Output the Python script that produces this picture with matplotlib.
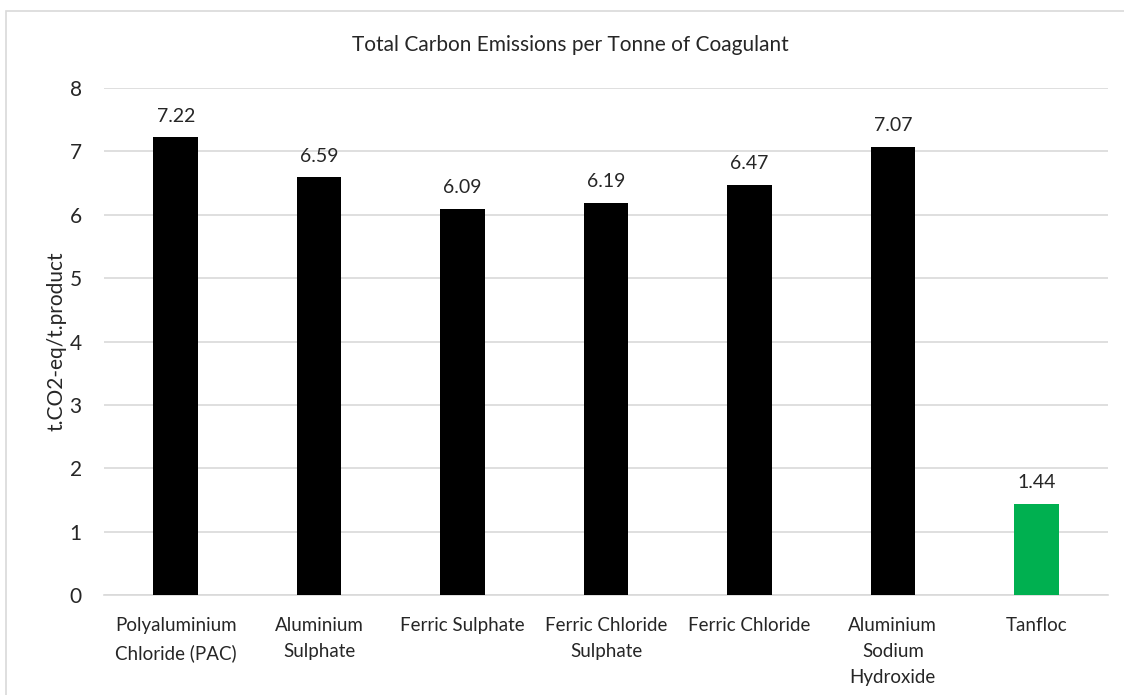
import matplotlib.pyplot as plt
from matplotlib.patches import Rectangle

categories = ["Polyaluminium\nChloride (PAC)", "Aluminium\nSulphate", "Ferric Sulphate",
              "Ferric Chloride\nSulphate", "Ferric Chloride", "Aluminium\nSodium\nHydroxide",
              "Tanfloc"]
values = [7.22, 6.59, 6.09, 6.19, 6.47, 7.07, 1.44]
colors = ["black"] * 6 + ["#00B050"]

plt.rcParams["font.family"] = ["Lato", "DejaVu Sans"]

W, H = 1124, 695
fig = plt.figure(figsize=(W / 100, H / 100), dpi=100)
ax = fig.add_axes([104 / W, 1 - 595 / H, (1108 - 104) / W, (595 - 88) / H])

# chart border (cut off at right and bottom like the original)
fig.patches.append(Rectangle((6 / W, -0.1), 1.2, 1 - 11 / H + 0.1, transform=fig.transFigure,
                             fill=False, edgecolor="#d9d9d9", linewidth=1.2, zorder=0))

x = range(len(categories))
bars = ax.bar(x, values, width=0.31, color=colors, zorder=3)
for xi, v in zip(x, values):
    ax.text(xi, v + 0.2, f"{v:.2f}", ha="center", va="bottom", fontsize=14, color="#262626")

ax.set_xlim(-0.5, len(categories) - 0.5)
ax.set_ylim(0, 8)
ax.set_yticks(range(0, 9))
ax.set_xticks(list(x))
ax.set_xticklabels(categories, fontsize=13.5, color="#262626", linespacing=1.65)
ax.tick_params(axis="y", labelsize=15, colors="#262626", length=0, pad=16)
ax.tick_params(axis="x", length=0, pad=16)
ax.grid(axis="y", color="#d9d9d9", linewidth=1.2, zorder=0)
for s in ["top", "right", "left"]:
    ax.spines[s].set_visible(False)
ax.spines["bottom"].set_color("#d9d9d9")
ax.spines["bottom"].set_linewidth(1.2)

ax.set_ylabel("t.CO2-eq/t.product", fontsize=15, color="#262626", labelpad=2)
fig.text(570 / W, 1 - 45 / H, "Total Carbon Emissions per Tonne of Coagulant",
         ha="center", va="center", fontsize=15, color="#262626")

fig.savefig("out.png", dpi=100)
